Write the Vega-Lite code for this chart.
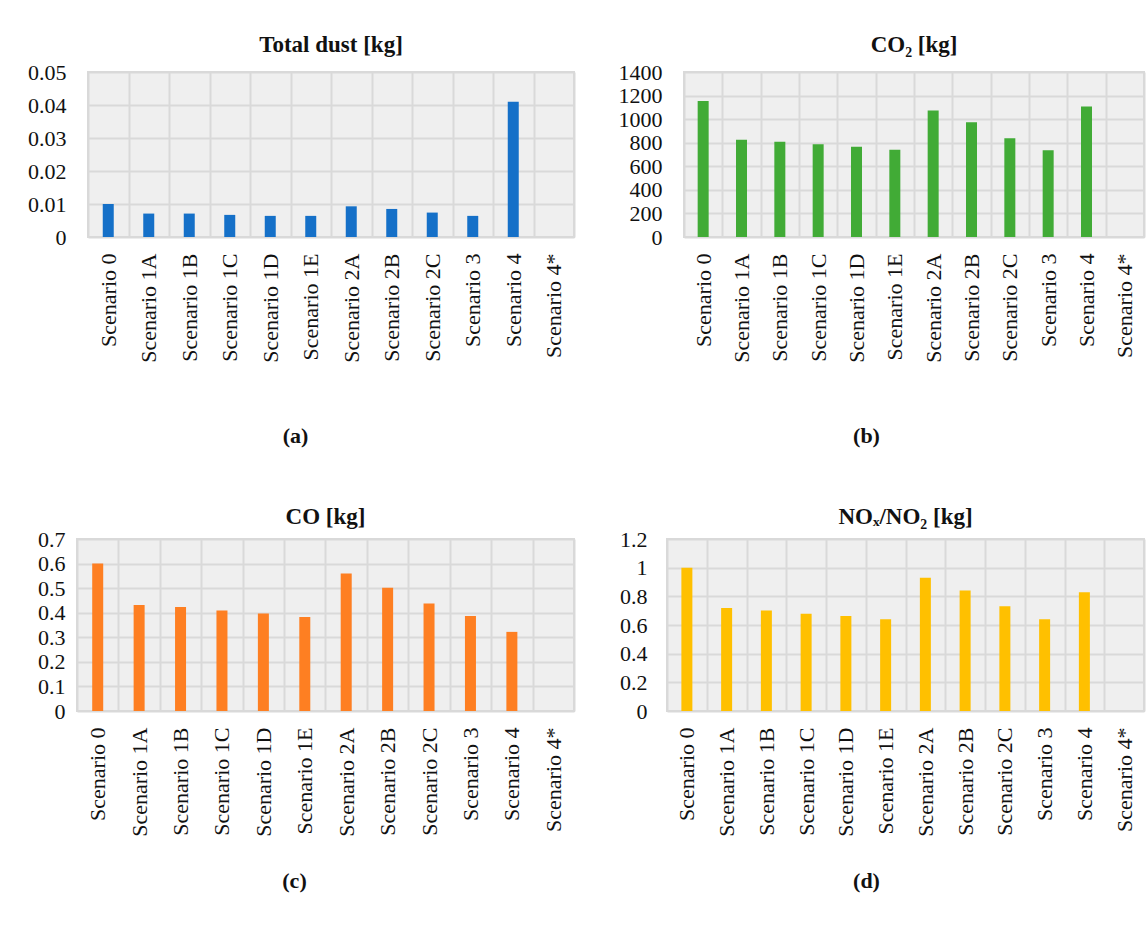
{
  "$schema": "https://vega.github.io/schema/vega-lite/v6.json",
  "background": "white",
  "padding": {"left": 16, "top": 33, "right": 5, "bottom": 5},
  "data": {
    "values": [
      {"scenario": "Scenario 0", "dust": 0.0100, "co2": 1155, "co": 0.600, "nox": 1.000},
      {"scenario": "Scenario 1A", "dust": 0.0071, "co2": 826, "co": 0.431, "nox": 0.718},
      {"scenario": "Scenario 1B", "dust": 0.0071, "co2": 809, "co": 0.423, "nox": 0.701},
      {"scenario": "Scenario 1C", "dust": 0.0067, "co2": 786, "co": 0.409, "nox": 0.678},
      {"scenario": "Scenario 1D", "dust": 0.0064, "co2": 766, "co": 0.397, "nox": 0.663},
      {"scenario": "Scenario 1E", "dust": 0.0064, "co2": 740, "co": 0.383, "nox": 0.640},
      {"scenario": "Scenario 2A", "dust": 0.0093, "co2": 1073, "co": 0.560, "nox": 0.930},
      {"scenario": "Scenario 2B", "dust": 0.0085, "co2": 973, "co": 0.502, "nox": 0.840},
      {"scenario": "Scenario 2C", "dust": 0.0074, "co2": 837, "co": 0.438, "nox": 0.730},
      {"scenario": "Scenario 3", "dust": 0.0064, "co2": 737, "co": 0.387, "nox": 0.640},
      {"scenario": "Scenario 4", "dust": 0.0410, "co2": 1108, "co": 0.322, "nox": 0.828},
      {"scenario": "Scenario 4*", "dust": null, "co2": null, "co": null, "nox": null}
    ]
  },
  "config": {
    "font": "Liberation Serif",
    "view": {"fill": "#efefef", "stroke": "#d9d9d9", "strokeWidth": 2},
    "axis": {
      "labelFont": "Liberation Serif",
      "labelFontSize": 22,
      "labelColor": "#111111",
      "domain": false,
      "ticks": false,
      "grid": true,
      "gridColor": "#d9d9d9",
      "gridWidth": 2,
      "titleFont": "Liberation Serif",
      "titleFontSize": 22,
      "titleFontWeight": "bold",
      "titleColor": "#111111"
    },
    "axisX": {"labelAngle": -90, "labelPadding": 16, "tickBand": "extent"},
    "axisY": {"labelPadding": 22, "title": null, "format": "~r"},
    "title": {"font": "Liberation Serif", "fontSize": 23, "fontWeight": "bold", "color": "#111111", "anchor": "middle"}
  },
  "vconcat": [
    {
      "spacing": 0,
      "hconcat": [
        {"width": 1, "height": 1, "data": {"values": []}, "mark": "point", "encoding": {}, "view": {"stroke": null, "fill": null}},
        {
          "spacing": 38,
          "hconcat": [
            {
              "width": 486, "height": 165,
              "title": {"text": "Total dust [kg]", "offset": 4},
              "mark": {"type": "bar", "color": "#1570c8", "width": 11},
              "encoding": {
                "x": {"field": "scenario", "type": "nominal", "sort": null,
                      "scale": {"domain": ["Scenario 0","Scenario 1A","Scenario 1B","Scenario 1C","Scenario 1D","Scenario 1E","Scenario 2A","Scenario 2B","Scenario 2C","Scenario 3","Scenario 4","Scenario 4*"], "paddingInner": 0, "paddingOuter": 0},
                      "axis": {"title": "(a)", "titlePadding": 63, "titleX": 207}},
                "y": {"field": "dust", "type": "quantitative",
                      "scale": {"domain": [0, 0.05], "nice": false},
                      "axis": {"values": [0, 0.01, 0.02, 0.03, 0.04, 0.05], "minExtent": 70, "maxExtent": 70}}
              }
            },
            {
              "width": 460, "height": 165,
              "title": {"text": "CO₂ [kg]", "offset": 4},
              "mark": {"type": "bar", "color": "#41ab36", "width": 11},
              "encoding": {
                "x": {"field": "scenario", "type": "nominal", "sort": null,
                      "scale": {"domain": ["Scenario 0","Scenario 1A","Scenario 1B","Scenario 1C","Scenario 1D","Scenario 1E","Scenario 2A","Scenario 2B","Scenario 2C","Scenario 3","Scenario 4","Scenario 4*"], "paddingInner": 0, "paddingOuter": 0},
                      "axis": {"title": "(b)", "titlePadding": 63, "titleX": 182}},
                "y": {"field": "co2", "type": "quantitative",
                      "scale": {"domain": [0, 1400], "nice": false},
                      "axis": {"values": [0, 200, 400, 600, 800, 1000, 1200, 1400], "minExtent": 70, "maxExtent": 70}}
              }
            }
          ]
        }
      ]
    },
    {
      "spacing": 0,
      "hconcat": [
        {"width": 1, "height": 1, "data": {"values": []}, "mark": "point", "encoding": {}, "view": {"stroke": null, "fill": null}},
        {
          "spacing": 21,
          "hconcat": [
            {
              "width": 497, "height": 172,
              "title": {"text": "CO [kg]", "offset": -1},
              "mark": {"type": "bar", "color": "#fe7f22", "width": 11},
              "encoding": {
                "x": {"field": "scenario", "type": "nominal", "sort": null,
                      "scale": {"domain": ["Scenario 0","Scenario 1A","Scenario 1B","Scenario 1C","Scenario 1D","Scenario 1E","Scenario 2A","Scenario 2B","Scenario 2C","Scenario 3","Scenario 4","Scenario 4*"], "paddingInner": 0, "paddingOuter": 0},
                      "axis": {"title": "(c)", "titlePadding": 34, "titleX": 217}},
                "y": {"field": "co", "type": "quantitative",
                      "scale": {"domain": [0, 0.7], "nice": false},
                      "axis": {"values": [0, 0.1, 0.2, 0.3, 0.4, 0.5, 0.6, 0.7], "labelPadding": 12, "minExtent": 59, "maxExtent": 59}}
              }
            },
            {
              "width": 477, "height": 172,
              "title": {"text": "NOₓ/NO₂ [kg]", "offset": -1},
              "mark": {"type": "bar", "color": "#ffc000", "width": 11},
              "encoding": {
                "x": {"field": "scenario", "type": "nominal", "sort": null,
                      "scale": {"domain": ["Scenario 0","Scenario 1A","Scenario 1B","Scenario 1C","Scenario 1D","Scenario 1E","Scenario 2A","Scenario 2B","Scenario 2C","Scenario 3","Scenario 4","Scenario 4*"], "paddingInner": 0, "paddingOuter": 0},
                      "axis": {"title": "(d)", "titlePadding": 34, "titleX": 199}},
                "y": {"field": "nox", "type": "quantitative",
                      "scale": {"domain": [0, 1.2], "nice": false},
                      "axis": {"values": [0, 0.2, 0.4, 0.6, 0.8, 1, 1.2], "labelPadding": 20, "minExtent": 70, "maxExtent": 70}}
              }
            }
          ]
        }
      ]
    }
  ],
  "align": "none",
  "spacing": 57
}
